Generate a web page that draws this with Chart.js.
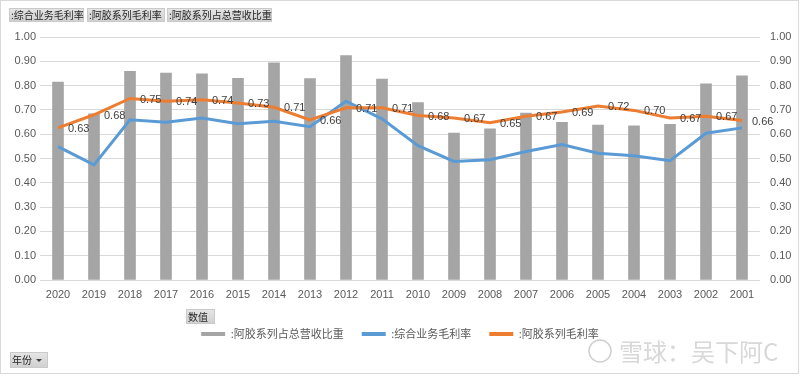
<!DOCTYPE html>
<html>
<head>
<meta charset="utf-8">
<script src="https://cdn.jsdelivr.net/npm/chart.js@4.4.1/dist/chart.umd.min.js"></script>
<style>
  html, body { margin: 0; padding: 0; background: #ffffff; }
  #wrap { width: 800px; height: 376px; position: relative; }
</style>
</head>
<body>
<div id="wrap"><canvas id="c" width="800" height="376"></canvas></div>
<script>
const years = ["2020","2019","2018","2017","2016","2015","2014","2013","2012","2011","2010","2009","2008","2007","2006","2005","2004","2003","2002","2001"];
const ejiaoShare = [0.815,0.684,0.859,0.852,0.848,0.830,0.894,0.829,0.924,0.827,0.730,0.605,0.622,0.687,0.649,0.638,0.634,0.641,0.807,0.840];
const overallMargin = [0.549,0.474,0.659,0.649,0.667,0.643,0.653,0.631,0.736,0.663,0.553,0.488,0.495,0.529,0.557,0.522,0.511,0.491,0.604,0.626];
const ejiaoMargin = [0.626,0.680,0.747,0.736,0.742,0.728,0.711,0.659,0.709,0.709,0.677,0.667,0.647,0.674,0.691,0.716,0.698,0.667,0.674,0.656];
const seriesNames = [":阿胶系列占总营收比重", ":综合业务毛利率", ":阿胶系列毛利率"];
const topButtons = [":综合业务毛利率", ":阿胶系列毛利率", ":阿胶系列占总营收比重"];
const valueButton = "数值";
const axisButton = "年份";
const watermark = "雪球：吴下阿C";

const CJK = '"Noto Sans CJK SC", "Noto Sans", sans-serif';
const NUM = '"Liberation Sans", Arial, sans-serif';

function drawButton(ctx, x, y, w, h, text, arrow) {
  const g = ctx.createLinearGradient(0, y, 0, y + h);
  g.addColorStop(0, '#e6e6e6');
  g.addColorStop(1, '#cfcfcf');
  ctx.fillStyle = g;
  ctx.fillRect(x, y, w, h);
  ctx.strokeStyle = '#cacaca';
  ctx.lineWidth = 1;
  ctx.strokeRect(x + 0.5, y + 0.5, w - 1, h - 1);
  ctx.fillStyle = '#262626';
  ctx.font = '10px ' + CJK;
  ctx.textBaseline = 'middle';
  ctx.textAlign = 'left';
  ctx.fillText(text, x + 2, y + h / 2 + 0.5);
  if (arrow) {
    const ax = x + w - 9, ay = y + h / 2 - 1;
    ctx.beginPath();
    ctx.moveTo(ax - 3, ay);
    ctx.lineTo(ax + 3, ay);
    ctx.lineTo(ax, ay + 3);
    ctx.closePath();
    ctx.fillStyle = '#404040';
    ctx.fill();
  }
}

const decorPlugin = {
  id: 'decor',
  afterDraw(chart) {
    const ctx = chart.ctx;
    ctx.save();
    ctx.strokeStyle = '#d9d9d9';
    ctx.lineWidth = 1;
    ctx.strokeRect(0.5, 0.5, 798, 373);
    drawButton(ctx, 9, 8, 75, 14, topButtons[0]);
    drawButton(ctx, 87, 8, 78, 14, topButtons[1]);
    drawButton(ctx, 167, 8, 105, 14, topButtons[2]);
    drawButton(ctx, 186, 309, 29, 15, valueButton);
    drawButton(ctx, 10, 352, 38, 16, axisButton, true);
    const meta = chart.getDatasetMeta(2);
    ctx.font = '11px ' + NUM;
    ctx.fillStyle = '#404040';
    ctx.textAlign = 'left';
    ctx.textBaseline = 'middle';
    meta.data.forEach((pt, i) => {
      ctx.fillText(ejiaoMargin[i].toFixed(2), pt.x + 10, pt.y + 1);
    });
    ctx.strokeStyle = '#d0d0d0';
    ctx.lineWidth = 1.5;
    ctx.beginPath();
    ctx.arc(600, 351, 11, 0, Math.PI * 2);
    ctx.stroke();
    ctx.font = '24px ' + CJK;
    ctx.fillStyle = '#d8d8d8';
    ctx.textBaseline = 'middle';
    ctx.fillText(watermark, 619, 352);
    ctx.restore();
  }
};

new Chart(document.getElementById('c'), {
  type: 'bar',
  data: {
    labels: years,
    datasets: [
      {
        type: 'bar',
        label: seriesNames[0],
        data: ejiaoShare,
        backgroundColor: '#a5a5a5',
        borderWidth: 0,
        barThickness: 11,
        yAxisID: 'y',
        order: 3
      },
      {
        type: 'line',
        label: seriesNames[1],
        data: overallMargin,
        borderColor: '#5b9bd5',
        backgroundColor: '#5b9bd5',
        borderWidth: 3,
        pointRadius: 0,
        tension: 0,
        yAxisID: 'y1',
        order: 2
      },
      {
        type: 'line',
        label: seriesNames[2],
        data: ejiaoMargin,
        borderColor: '#ed7d31',
        backgroundColor: '#ed7d31',
        borderWidth: 3,
        pointRadius: 0,
        tension: 0,
        yAxisID: 'y1',
        order: 1
      }
    ]
  },
  options: {
    responsive: false,
    animation: false,
    devicePixelRatio: 1,
    layout: { padding: { top: 37, bottom: 26.5, left: 0, right: 0 } },
    plugins: {
      tooltip: { enabled: false },
      legend: {
        position: 'bottom',
        labels: {
          boxWidth: 24,
          boxHeight: 4,
          padding: 18,
          color: '#595959',
          font: { size: 11, family: CJK },
          generateLabels(chart) {
            return chart.data.datasets.map((ds, i) => ({
              text: ds.label,
              fillStyle: ds.type === 'bar' ? ds.backgroundColor : ds.borderColor,
              strokeStyle: ds.type === 'bar' ? ds.backgroundColor : ds.borderColor,
              lineWidth: 0,
              hidden: false,
              datasetIndex: i,
              fontColor: '#595959'
            }));
          }
        }
      }
    },
    scales: {
      x: {
        grid: { display: false, drawTicks: false },
        border: { display: false },
        ticks: { color: '#595959', font: { size: 11, family: NUM }, padding: 8, maxRotation: 0, autoSkip: false },
        afterFit(s) { s.height = 30.5; }
      },
      y: {
        position: 'left',
        min: 0, max: 1,
        ticks: { stepSize: 0.1, color: '#595959', font: { size: 11, family: NUM }, padding: 4,
                 callback: v => Number(v).toFixed(2) },
        grid: { color: '#d9d9d9', drawTicks: false, lineWidth: 1 },
        border: { display: false },
        afterFit(s) { s.width = 40; }
      },
      y1: {
        position: 'right',
        min: 0, max: 1,
        ticks: { stepSize: 0.1, color: '#595959', font: { size: 11, family: NUM }, padding: 10,
                 callback: v => Number(v).toFixed(2) },
        grid: { display: false, drawTicks: false },
        border: { display: false },
        afterFit(s) { s.width = 40; }
      }
    }
  },
  plugins: [decorPlugin]
});
</script>
</body>
</html>
